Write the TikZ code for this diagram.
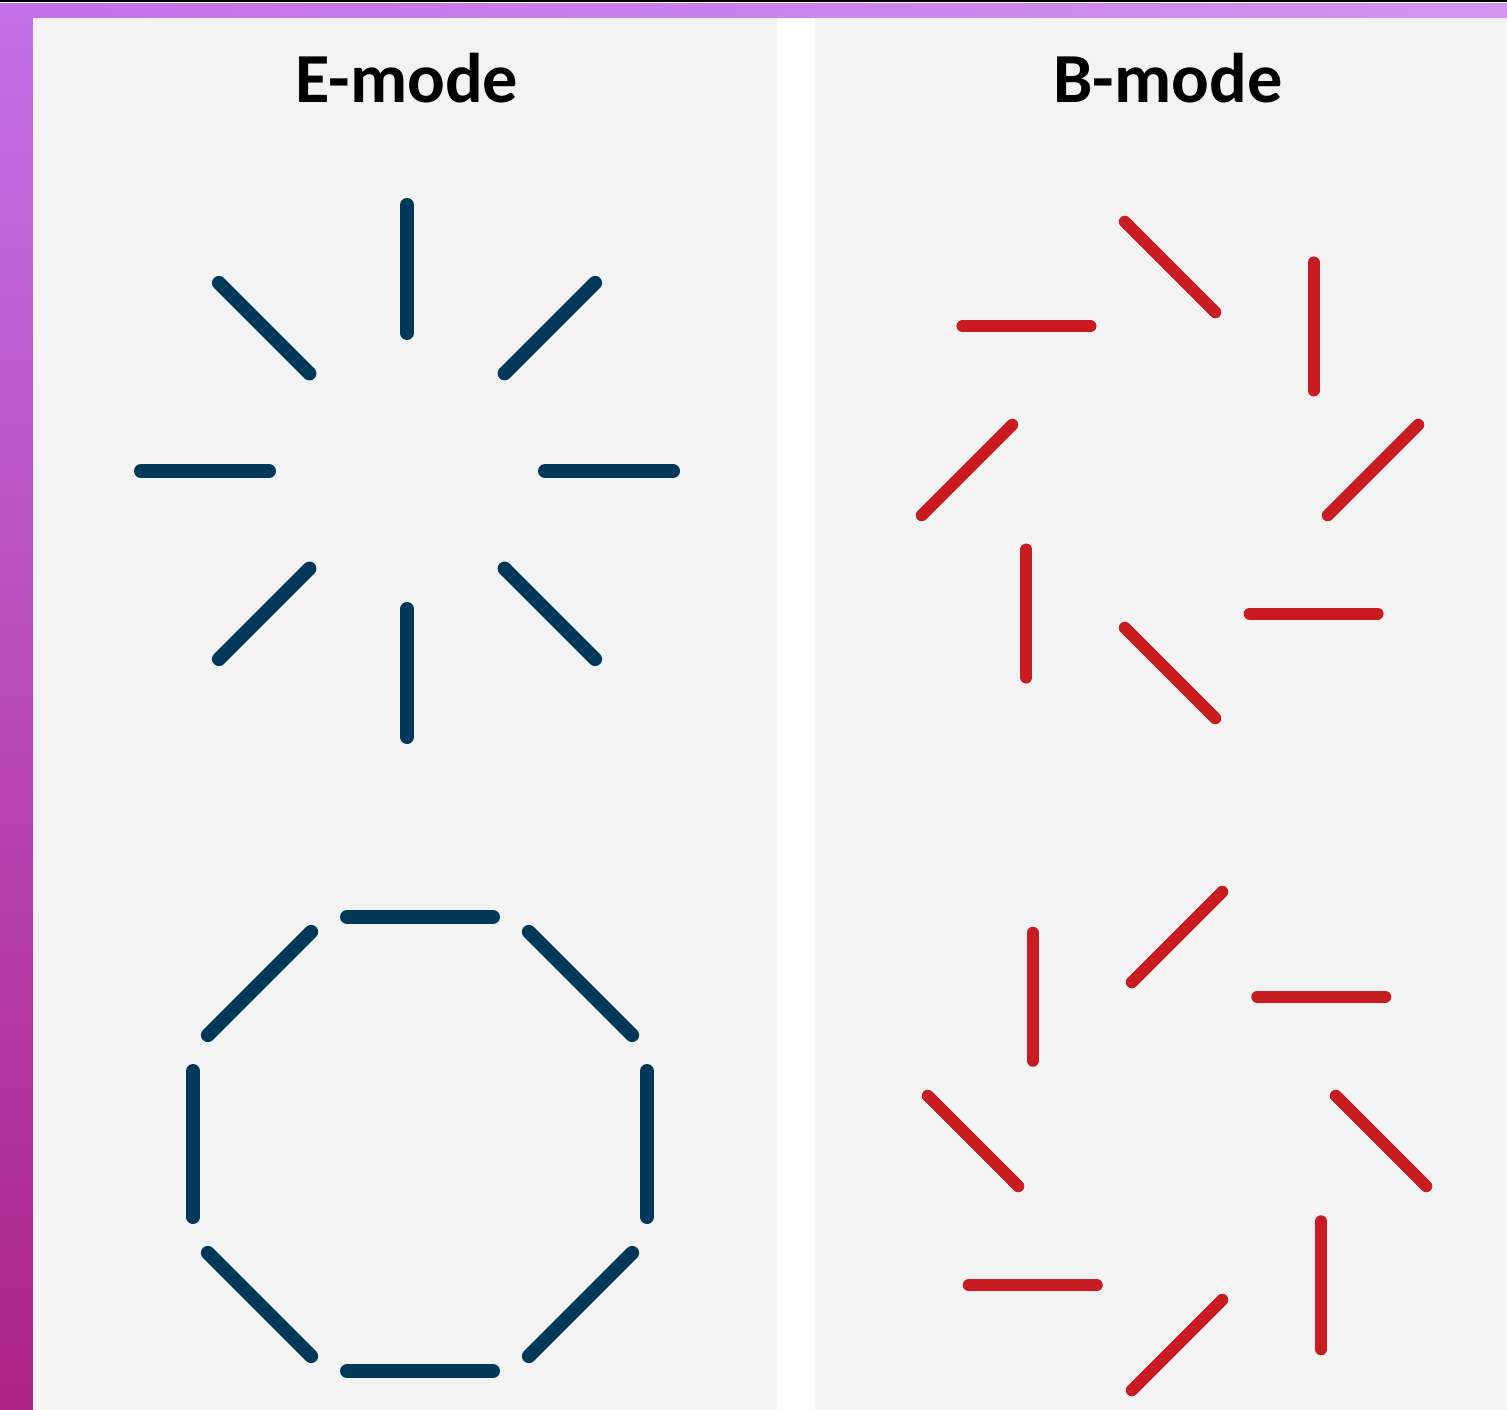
\documentclass[tikz,border=0pt]{standalone}
\usepackage{fontspec}
\newfontfamily\titlefont{Carlito}
\usepackage{tikz}
\usetikzlibrary{calc}
\definecolor{emodeblue}{RGB}{0, 56, 90}
\definecolor{bmodered}{RGB}{200, 28, 34}
\definecolor{panelgray}{RGB}{243, 243, 243}
\definecolor{violetbg}{RGB}{196, 112, 232}
\definecolor{purplebg}{RGB}{150, 64, 214}
\definecolor{magentabg}{RGB}{172, 34, 136}

\begin{document}
\begin{tikzpicture}[x=0.01cm, y=-0.01cm, every node/.style={font=\titlefont\bfseries\fontsize{20}{24}\selectfont},
    emark/.style={draw=emodeblue, line width=0.14cm, line cap=round},
    bmark/.style={draw=bmodered, line width=0.12cm, line cap=round},
    panel/.style={fill=panelgray, draw=none}]
    \useasboundingbox (0,0) rectangle (1507,1410);
    \shade[top color=violetbg, bottom color=magentabg] (0,0) rectangle (33,1410);
    \shade[left color=violetbg, middle color=purplebg, right color=violetbg!75!white] (0,0) rectangle (1507,18);
    \fill[black] (0,0) rectangle (1507,2);
    \fill[white] (0,2) rectangle (1507,3);

    \fill[panel] (33,18) rectangle (777,1410);
    \fill[white] (777,18) rectangle (815,1410);
    \fill[panel] (815,18) rectangle (1507,1410);

    \node[anchor=base] (etitle) at (407,103) {E-mode};
    \node[anchor=base] (btitle) at (1168,103) {B-mode};

    \coordinate (estar) at (407,471);
    \coordinate (ering) at (420,1144);
    \coordinate (bswirl) at (1170,470);
    \coordinate (bcurl) at (1177,1141);

    \foreach \a in {0,45,...,315}
        \draw[emark] ($(estar)+(\a:138)$) -- ($(estar)+(\a:266)$);
    \foreach \a in {0,45,...,315}
        \draw[emark] ($(ering)+(\a:227)+(\a+90:73)$) -- ($(ering)+(\a:227)+(\a-90:73)$);

    \foreach \a in {0,45,...,315}
        \draw[bmark] ($(bswirl)+(\a:203)+(\a-45:64)$) -- ($(bswirl)+(\a:203)+(\a+135:64)$);
    \foreach \a in {0,45,...,315}
        \draw[bmark] ($(bcurl)+(\a:204)+(\a+45:64)$) -- ($(bcurl)+(\a:204)+(\a+225:64)$);
\end{tikzpicture}
\end{document}
